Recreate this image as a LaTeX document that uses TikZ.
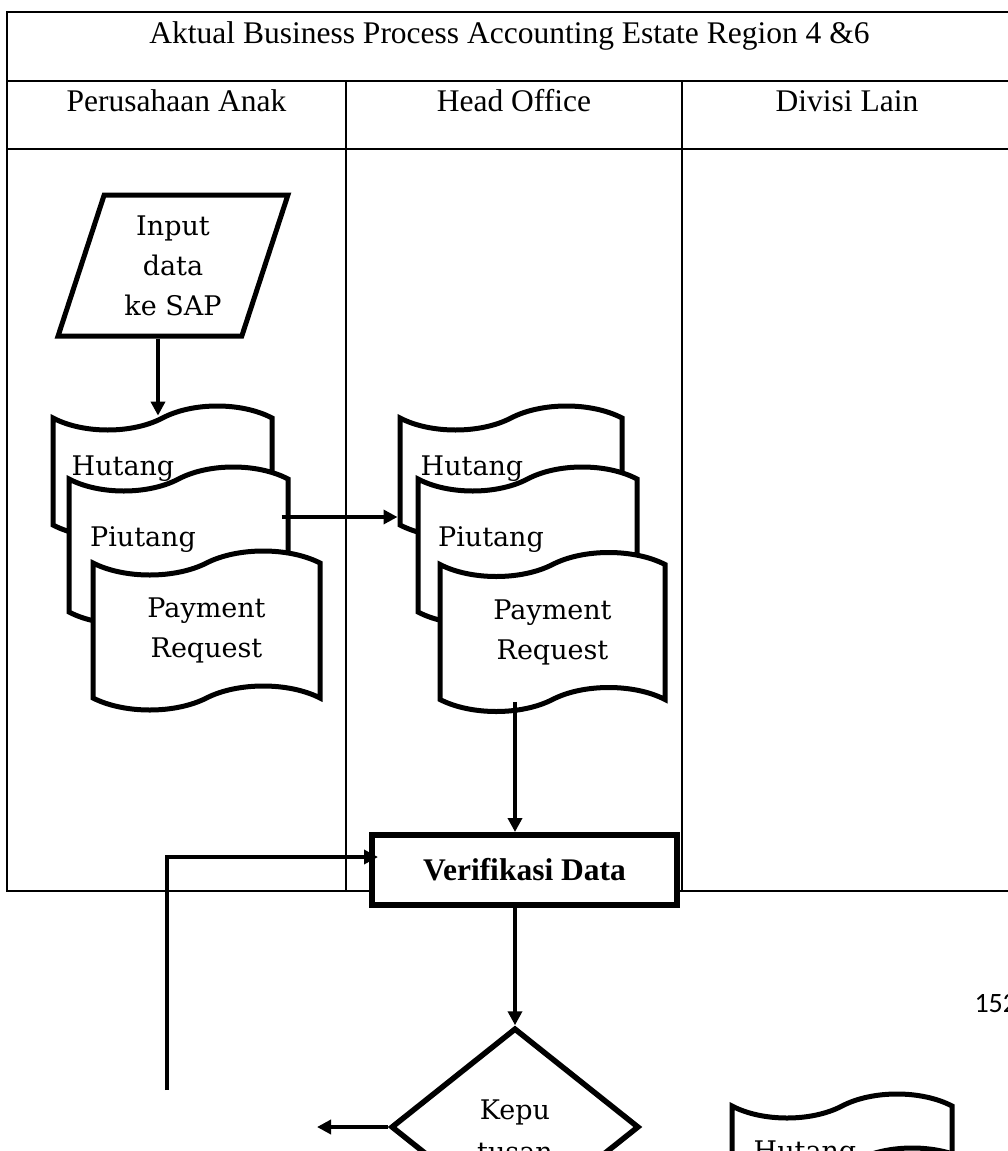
\documentclass[tikz,border=0pt]{standalone}
\usepackage{fontspec}
\setmainfont{Liberation Serif}
\newfontfamily\docfont{DejaVu Serif}
\newfontfamily\pagefont{Carlito}
\usetikzlibrary{shapes.geometric,shapes.symbols,arrows.meta,positioning}

\tikzset{
  lane/.style={line width=2.4pt},
  head/.style={anchor=base, font=\fontsize{31.5}{36}\selectfont},
  doc/.style={draw, tape, fill=white, line width=5pt, inner sep=0pt,
    tape bend height=24pt, align=center,
    font=\docfont\fontsize{27}{40}\selectfont},
  doctext/.style={anchor=base, font=\docfont\fontsize{27}{40}\selectfont},
  arr/.style={line width=4.5pt, -{Triangle[length=14pt,width=14pt]}},
}

\begin{document}
\begin{tikzpicture}[x=1pt,y=-1pt]
\useasboundingbox (0,0) rectangle (1007,1151);

% swimlane table
\draw[lane] (1012,12) -- (7,12) -- (7,891) -- (1012,891) -- cycle;
\draw[lane] (7,81) -- (1012,81);
\draw[lane] (7,149) -- (1012,149);
\draw[lane] (346,81) -- (346,891);
\draw[lane] (682,81) -- (682,891);
\node[head] (title) at (509.5,43) {Aktual Business Process Accounting Estate Region 4 \&6};
\node[head] (lane1) at (176.5,111) {Perusahaan Anak};
\node[head] (lane2) at (514,111) {Head Office};
\node[head] (lane3) at (847,111) {Divisi Lain};

% Perusahaan Anak
\node[draw, trapezium, trapezium left angle=72, trapezium right angle=108,
  trapezium stretches=true, minimum width=230, minimum height=141,
  line width=5pt, inner sep=0pt, align=center,
  font=\docfont\fontsize{27}{40}\selectfont] (inp) at (173,265.5) {Input\\data\\ke SAP};
\node[doc, minimum width=219, minimum height=131] (hutA) at (162.5,471.5) {};
\node[doctext] (hutAt) at (123,475) {Hutang};
\node[doc, minimum width=219, minimum height=157] (piuA) at (178.5,545.5) {};
\node[doctext] (piuAt) at (143,546) {Piutang};
\node[doc, minimum width=227, minimum height=159] (prA) at (206.5,630.5) {Payment\\Request};

% Head Office
\node[doc, minimum width=222, minimum height=131] (hutB) at (511,471.5) {};
\node[doctext] (hutBt) at (472,475) {Hutang};
\node[doc, minimum width=219, minimum height=157] (piuB) at (527.5,545.5) {};
\node[doctext] (piuBt) at (491,546) {Piutang};
\node[doc, minimum width=225, minimum height=159] (prB) at (552.5,632) {Payment\\Request};

\node[draw, line width=6pt, fill=white, minimum width=305, minimum height=70,
  font=\bfseries\fontsize{31.5}{36}\selectfont] (verif) at (524.5,870) {Verifikasi Data};
\node[draw, diamond, aspect=1.25, minimum width=248, minimum height=198,
  line width=5.5pt, inner sep=0pt] (dec) at (515,1127) {};
\node[anchor=north, inner sep=0pt, align=center,
  font=\docfont\fontsize{27}{42}\selectfont] (dect) at (515,1100) {Kepu\\tusan};

% bottom right
\node[doc, minimum width=220, minimum height=131] (hutC) at (842,1159.5) {};
\node[doctext] (hutCt) at (805,1160) {Hutang};
\node[doc, minimum width=219, minimum height=157] (piuC) at (857.5,1226.5) {};

\node[font=\pagefont\fontsize{28}{30}\selectfont, anchor=base west] (page) at (971,1012) {152};

\coordinate (decL) at (317,1127);
\coordinate (fbB) at (167,1090);

\draw[arr] ([xshift=-15pt]inp.south) -- ([xshift=-15pt]inp.south |- hutA.north);
\draw[arr] ([xshift=-9pt,yshift=28.5pt]piuA.east) -- ([yshift=28.5pt]piuA.east -| hutB.west);
\draw[arr] (prB.south -| dec.north) -- (verif.north -| dec.north);
\draw[arr] (verif.south -| dec.north) -- (dec.north);
\draw[arr] (dec.west) -- (decL);
\draw[arr] (fbB) |- ([xshift=9pt,yshift=13pt]verif.west);
\end{tikzpicture}
\end{document}
